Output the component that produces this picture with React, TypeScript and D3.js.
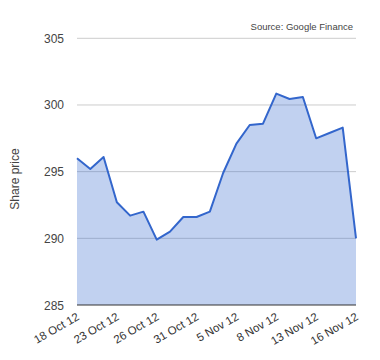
import React from "react";
import * as d3 from "d3";

const dates = [
  "18 Oct 12", "19 Oct 12", "22 Oct 12", "23 Oct 12", "24 Oct 12", "25 Oct 12",
  "26 Oct 12", "29 Oct 12", "30 Oct 12", "31 Oct 12", "1 Nov 12", "2 Nov 12",
  "5 Nov 12", "6 Nov 12", "7 Nov 12", "8 Nov 12", "9 Nov 12", "12 Nov 12",
  "13 Nov 12", "14 Nov 12", "15 Nov 12", "16 Nov 12",
];
const prices = [
  296.0, 295.2, 296.1, 292.7, 291.7, 292.0,
  289.9, 290.5, 291.6, 291.6, 292.0, 294.9,
  297.1, 298.5, 298.6, 300.85, 300.45, 300.6,
  297.5, 297.9, 298.3, 290.0,
];
const tickLabels = ["18 Oct 12", "23 Oct 12", "26 Oct 12", "31 Oct 12", "5 Nov 12", "8 Nov 12", "13 Nov 12", "16 Nov 12"];
const yTicks = [285, 290, 295, 300, 305];
const sourceText = "Source: Google Finance";
const yTitle = "Share price";

const W = 380, H = 360;
const left = 77, right = 356, top = 38.3, bottom = 305;
const font = "'Liberation Sans', Arial, sans-serif";

export default function App() {
  const x = d3.scalePoint<string>().domain(dates).range([left, right]);
  const y = d3.scaleLinear().domain([285, 305]).range([bottom, top]);
  const data = dates.map((d, i) => ({ d, v: prices[i] }));
  const line = d3.line<{ d: string; v: number }>().x(p => x(p.d)!).y(p => y(p.v));
  const area = d3.area<{ d: string; v: number }>().x(p => x(p.d)!).y0(y(285)).y1(p => y(p.v));

  return (
    <svg width={W} height={H} style={{ position: "absolute", left: 0, top: 0 }} fontFamily={font}>
      <rect width={W} height={H} fill="#fff" />
      {yTicks.filter(t => t !== 285).map(t => (
        <line key={t} x1={left} x2={right} y1={y(t)} y2={y(t)} stroke="#cccccc" strokeWidth={1} />
      ))}
      <path d={area(data)!} fill="#3366cc" fillOpacity={0.3} />
      <line x1={left} x2={right} y1={y(285)} y2={y(285)} stroke="#333333" strokeWidth={1.2} />
      <path d={line(data)!} fill="none" stroke="#3366cc" strokeWidth={2} strokeLinejoin="round" />
      {yTicks.map(t => (
        <text key={t} x={64} y={y(t) + 4.5} textAnchor="end" fontSize={12} fill="#444">{t}</text>
      ))}
      {tickLabels.map(l => (
        <text key={l} textAnchor="end" fontSize={11.5} fill="#333"
          transform={`translate(${x(l)! + 3},${319}) rotate(-30)`}>{l}</text>
      ))}
      <text transform={`translate(19,179) rotate(-90)`} textAnchor="middle" fontSize={12} fill="#444">{yTitle}</text>
      <text x={353} y={30} textAnchor="end" fontSize={9.5} fill="#444">{sourceText}</text>
    </svg>
  );
}
